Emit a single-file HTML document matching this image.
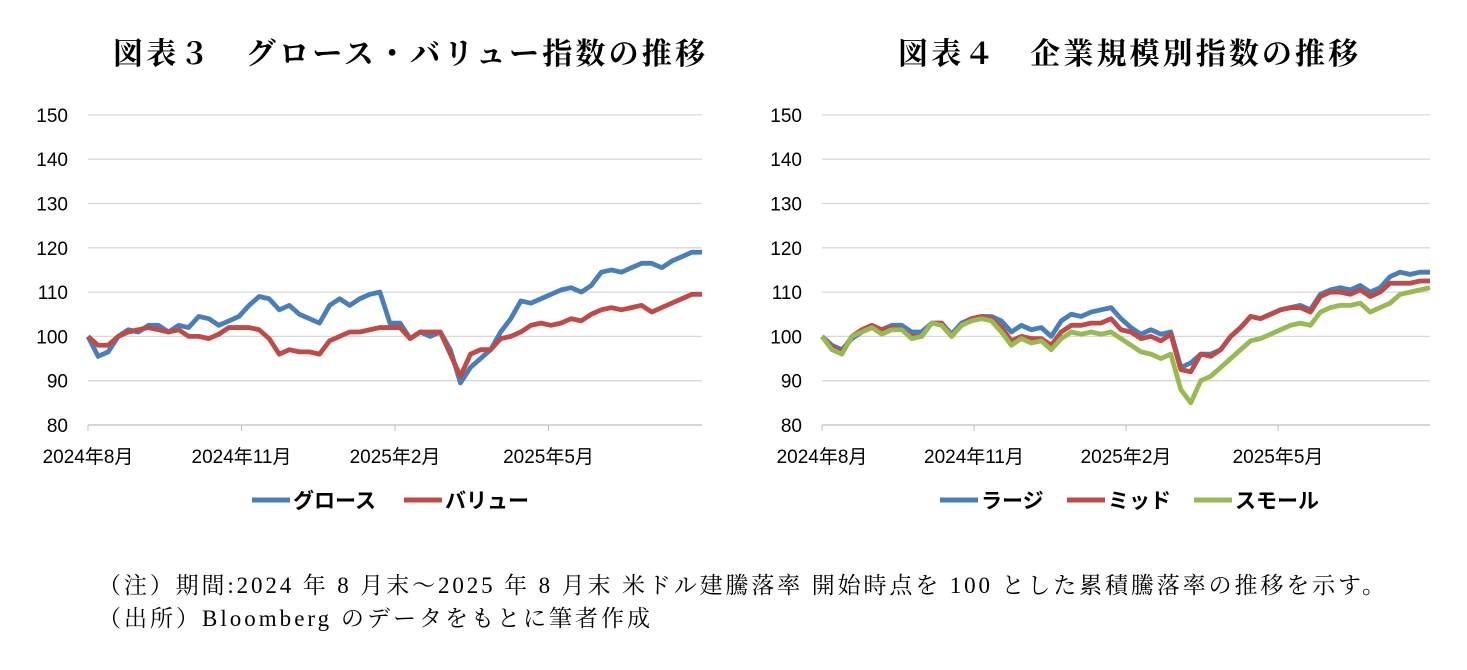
<!DOCTYPE html>
<html><head><meta charset="utf-8"><style>
body{margin:0;background:#fff;width:1467px;height:665px;overflow:hidden}
svg text{font-family:"Liberation Sans","Noto Sans CJK JP",sans-serif}
.ttl{font-family:"Liberation Serif","Noto Serif CJK SC",serif;font-weight:bold;font-size:30px}
.note{font-family:"Liberation Serif","Noto Serif CJK SC",serif;font-size:23px}
</style></head><body>
<svg id="c" width="1467" height="665">
<text class="ttl" x="113" y="64" textLength="592" lengthAdjust="spacing">図表３　グロース・バリュー指数の推移</text>
<text class="ttl" x="898" y="64" textLength="460" lengthAdjust="spacing">図表４　企業規模別指数の推移</text>
<text class="note" x="98" y="593" textLength="1287" lengthAdjust="spacing">（注）期間:2024 年 8 月末～2025 年 8 月末 米ドル建騰落率 開始時点を 100 とした累積騰落率の推移を示す。</text>
<text class="note" x="98" y="626" textLength="552" lengthAdjust="spacing">（出所）Bloomberg のデータをもとに筆者作成</text>
</svg>
<script>
const yTicks=[80,90,100,110,120,130,140,150];
const xLabels=["2024年8月","2024年11月","2025年2月","2025年5月"];
const xLabelIdx=[0,15.25,30.5,45.75];
const growth=[100,95.5,96.5,100,101.5,101,102.5,102.5,101,102.5,102,104.5,104,102.5,103.5,104.5,107,109,108.5,106,107,105,104,103,107,108.5,107,108.5,109.5,110,103,103,99.5,101,100,101,97,89.5,93,95,97,101,104,108,107.5,108.5,109.5,110.5,111,110,111.5,114.5,115,114.5,115.5,116.5,116.5,115.5,117,118,119,119];
const value=[100,98,98,100,101,101.5,102,101.5,101,101.5,100,100,99.5,100.5,102,102,102,101.5,99.5,96,97,96.5,96.5,96,99,100,101,101,101.5,102,102,102,99.5,101,101,101,96,91,96,97,97,99.5,100,101,102.5,103,102.5,103,104,103.5,105,106,106.5,106,106.5,107,105.5,106.5,107.5,108.5,109.5,109.5];
const large=[100,98,97,99.5,101,102,101.5,102.5,102.5,101,101,103,103,100.5,103,104,104.5,104.5,103.5,101,102.5,101.5,102,100,103.5,105,104.5,105.5,106,106.5,104,102,100.5,101.5,100.5,101,93,94,96,96,97,100,102,104.5,104,105,106,106.5,107,106,109.5,110.5,111,110.5,111.5,110,111,113.5,114.5,114,114.5,114.5];
const mid=[100,97.5,96.5,100,101.5,102.5,101.5,102,101.5,100,100,103,103,100,102.5,104,104.5,104,102,99,100,99.5,99.5,98,101,102.5,102.5,103,103,104,101.5,101,99.5,100,99,100.5,92.5,92,96,95.5,97,100,102,104.5,104,105,106,106.5,106.5,105.5,109,110,110,109.5,110.5,109,110,112,112,112,112.5,112.5];
const small=[100,97,96,100,101,102,100.5,101.5,101.5,99.5,100,103,102.5,100,102.5,103.5,104,103.5,101,98,99.5,98.5,99,97,99.5,101,100.5,101,100.5,101,99.5,98,96.5,96,95,96,88,85,90,91,93,95,97,99,99.5,100.5,101.5,102.5,103,102.5,105.5,106.5,107,107,107.5,105.5,106.5,107.5,109.5,110,110.5,111];
const svg=document.getElementById('c');const NS='http://www.w3.org/2000/svg';
function mk(t,a){const e=document.createElementNS(NS,t);for(const k in a)e.setAttribute(k,a[k]);svg.appendChild(e);return e;}
function chart(x0,x1,series,colors,names,legX,legW,pfx){
 const yS=v=>425-(v-80)*4.43, xS=i=>x0+i*(x1-x0)/61;
 yTicks.forEach(t=>{const l=mk('line',{x1:x0,x2:x1,y1:yS(t),y2:yS(t),stroke:t===80?'#bfbfbf':'#d9d9d9','stroke-width':1.3});
 
 
 const tx=mk('text',{x:x0-20,y:yS(t)+7,'text-anchor':'end','font-size':19,fill:'#000'});tx.textContent=t;
 
 });
 xLabelIdx.forEach((ix,j)=>{const x=xS(ix);const tk=mk('line',{x1:x,x2:x,y1:425,y2:431,stroke:'#bfbfbf'});
 
 
 const tx=mk('text',{x:x,y:463,'text-anchor':'middle','font-size':19});tx.textContent=xLabels[j];
 
 });
 series.forEach((s,k)=>{const p=mk('polyline',{points:s.map((v,i)=>xS(i)+','+yS(v)).join(' '),fill:'none',stroke:colors[k],'stroke-width':4.8,'stroke-linejoin':'round'});
 
 
 const lx=legX+k*legW;const ll=mk('line',{x1:lx,x2:lx+38,y1:500,y2:500,stroke:colors[k],'stroke-width':5});
 
 
 const lt=mk('text',{x:lx+41,y:508,'font-size':21,'font-weight':'bold'});lt.textContent=names[k];
 
 });
}
chart(88,702,[growth,value],['#4a7ebb','#be4b48'],['グロース','バリュー'],252,152,'chart3');
chart(822,1430,[large,mid,small],['#4a7ebb','#be4b48','#98b954'],['ラージ','ミッド','スモール'],940,127,'chart4');
</script>
</body></html>
